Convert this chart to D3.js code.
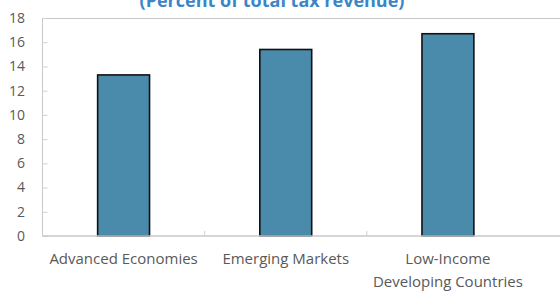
<!DOCTYPE html>
<html><head><meta charset="utf-8">
<script src="https://cdn.jsdelivr.net/npm/d3@7"></script>
<style>body{margin:0;background:#fff;}svg{display:block;font-family:"Open Sans",sans-serif;}</style>
</head><body>
<svg id="c" width="560" height="292"></svg>
<script>
const categories = [["Advanced Economies"], ["Emerging Markets"], ["Low-Income", "Developing Countries"]];
const values = [13.3, 15.4, 16.7];
const yTicks = [0, 2, 4, 6, 8, 10, 12, 14, 16, 18];
const title = "(Percent of total tax revenue)";

const svg = d3.select("#c");
const L = 42.5, R = 529, T = 18, B = 236;
const x = d3.scaleBand().domain(d3.range(categories.length)).range([L, R]).paddingInner(0.68).paddingOuter(0.34);
const y = d3.scaleLinear().domain([0, 18]).range([B, T]);

svg.append("text").attr("x", 272).attr("y", 7).attr("text-anchor", "middle")
  .attr("fill", "#3b86c6").attr("font-weight", "bold").attr("font-size", 18).text(title);

// plot frame lines
svg.append("line").attr("x1", L).attr("x2", 560).attr("y1", T + 0.5).attr("y2", T + 0.5).attr("stroke", "#c8c8c8");
svg.append("line").attr("x1", L).attr("x2", L).attr("y1", T).attr("y2", B).attr("stroke", "#c8c8c8");

// y axis
const ya = svg.append("g").attr("transform", `translate(${L},0)`)
  .call(d3.axisRight(y).tickValues(yTicks).tickSize(5).tickFormat(""));
ya.select(".domain").remove();
ya.selectAll("line").attr("stroke", "#d0d0d0");
svg.append("g").selectAll("text").data(yTicks).join("text")
  .attr("x", 25).attr("y", d => y(d)).attr("dy", "0.35em").attr("text-anchor", "end")
  .attr("fill", "#595959").attr("font-size", 14).text(d => d);

// bars
svg.append("g").selectAll("rect").data(values).join("rect")
  .attr("x", (d, i) => x(i)).attr("width", x.bandwidth())
  .attr("y", d => y(d)).attr("height", d => B - y(d))
  .attr("fill", "#4a8aab").attr("stroke", "#111").attr("stroke-width", 1.6);

// x axis
svg.append("line").attr("x1", L).attr("x2", 560).attr("y1", B).attr("y2", B).attr("stroke", "#c8c8c8").attr("stroke-width", 1.5);
svg.append("g").selectAll("line").data(d3.range(1, categories.length)).join("line")
  .attr("x1", i => L + (R - L) / categories.length * i).attr("x2", i => L + (R - L) / categories.length * i)
  .attr("y1", B).attr("y2", B - 5).attr("stroke", "#d0d0d0");

const lbl = svg.append("g").selectAll("text").data(categories).join("text")
  .attr("text-anchor", "middle").attr("fill", "#595959").attr("font-size", 15)
  .attr("x", (d, i) => x(i) + x.bandwidth() / 2);
lbl.each(function(lines) {
  const t = d3.select(this);
  lines.forEach((s, k) => {
    t.append("tspan").attr("x", t.attr("x")).attr("y", 264 + k * 23).text(s);
  });
});
</script>
</body></html>
